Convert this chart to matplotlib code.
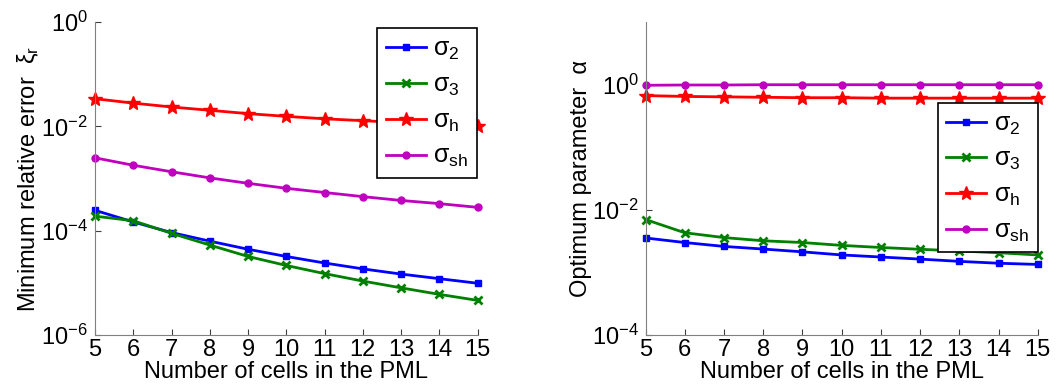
import numpy as np
import matplotlib
matplotlib.use("Agg")
import matplotlib.pyplot as plt

plt.rcParams['font.family'] = ['Liberation Sans', 'DejaVu Sans']
plt.rcParams['mathtext.fontset'] = 'custom'
plt.rcParams['mathtext.rm'] = 'Liberation Sans'
plt.rcParams['mathtext.it'] = 'Liberation Sans'
plt.rcParams['mathtext.sf'] = 'Liberation Sans'

cells = [5, 6, 7, 8, 9, 10, 11, 12, 13, 14, 15]

# minimum relative error
err_s2 = [2.46e-4, 1.47e-4, 9.2e-5, 6.3e-5, 4.4e-5, 3.2e-5, 2.4e-5, 1.85e-5, 1.47e-5, 1.2e-5, 9.8e-6]
err_s3 = [1.9e-4, 1.55e-4, 8.9e-5, 5.3e-5, 3.2e-5, 2.15e-5, 1.5e-5, 1.08e-5, 8.0e-6, 6.0e-6, 4.6e-6]
err_sh = [0.034, 0.028, 0.0236, 0.0204, 0.0176, 0.0156, 0.014, 0.0129, 0.0118, 0.011, 0.010]
err_ssh = [2.5e-3, 1.8e-3, 1.35e-3, 1.03e-3, 8.1e-4, 6.5e-4, 5.4e-4, 4.5e-4, 3.8e-4, 3.3e-4, 2.8e-4]

# optimum parameter alpha
alp_s2 = [3.55e-3, 3.0e-3, 2.6e-3, 2.36e-3, 2.13e-3, 1.9e-3, 1.76e-3, 1.63e-3, 1.5e-3, 1.4e-3, 1.34e-3]
alp_s3 = [7.0e-3, 4.3e-3, 3.6e-3, 3.2e-3, 3.0e-3, 2.7e-3, 2.5e-3, 2.34e-3, 2.2e-3, 2.06e-3, 1.9e-3]
alp_sh = [0.67, 0.65, 0.64, 0.63, 0.62, 0.62, 0.61, 0.61, 0.61, 0.61, 0.61]
alp_ssh = [0.98, 0.99, 0.99, 1.0, 1.0, 1.0, 1.0, 1.0, 1.0, 1.0, 1.0]

labels = [r'σ$_{2}$', r'σ$_{3}$', r'σ$_{h}$', r'σ$_{sh}$']
colors = ['#0000ff', '#008000', '#ff0000', '#bf00bf']
markers = ['s', 'x', '*', 'o']
msizes = [5, 6, 10, 5]

fig = plt.figure(figsize=(10.6, 3.89), dpi=100)
ax1 = fig.add_axes([0.0896, 0.139, 0.361, 0.804])
ax2 = fig.add_axes([0.609, 0.139, 0.370, 0.804])


def draw(ax, series, ylim, yticks, ylabel, legend_bbox):
    for ys, c, m, ms, lab in zip(series, colors, markers, msizes, labels):
        ax.plot(cells, ys, color=c, marker=m, markersize=ms, lw=2,
                markeredgewidth=2 if m == 'x' else 1, label=lab, clip_on=False)
    ax.set_yscale('log')
    ax.set_xlim(5, 15)
    ax.set_ylim(*ylim)
    ax.set_xticks(cells)
    ax.set_yticks(yticks)
    ax.minorticks_off()
    for s in ['top', 'right']:
        ax.spines[s].set_visible(False)
    for s in ['left', 'bottom']:
        ax.spines[s].set_color('#808080')
    ax.tick_params(direction='in', length=4, color='#404040', labelsize=17)
    ax.tick_params(axis='x', pad=3)
    ax.tick_params(axis='y', pad=5)
    ax.set_xlabel('Number of cells in the PML', fontsize=17, labelpad=0)
    ax.set_ylabel(ylabel, fontsize=17, labelpad=0)
    leg = ax.legend(loc='upper right', bbox_to_anchor=legend_bbox, fontsize=18,
                    fancybox=False, framealpha=1, edgecolor='black',
                    handlelength=1.6, labelspacing=0.42, borderpad=0.35,
                    handletextpad=0.3, borderaxespad=0)
    leg.get_frame().set_linewidth(1.2)


draw(ax1, [err_s2, err_s3, err_sh, err_ssh], (1e-6, 1), [1e-6, 1e-4, 1e-2, 1],
     r'Minimum relative error  ξ$_{r}$', (0.998, 0.98))
draw(ax2, [alp_s2, alp_s3, alp_sh, alp_ssh], (1e-4, 10), [1e-4, 1e-2, 1],
     r'Optimum parameter  α', (1.0, 0.743))

fig.savefig('out.png', dpi=100)
